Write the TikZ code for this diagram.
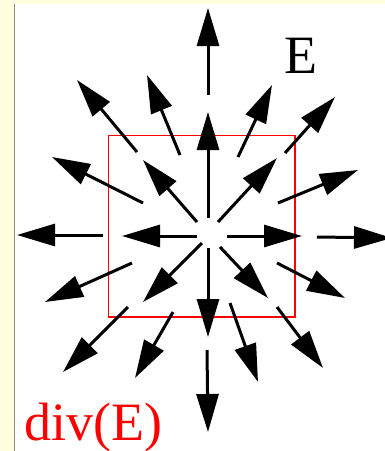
\documentclass[tikz,border=0pt]{standalone}
\usepackage{fontspec}
\setmainfont{Liberation Serif}
\usetikzlibrary{arrows.meta}
\definecolor{PageCream}{RGB}{255,255,224}
\definecolor{EdgeGray}{RGB}{140,140,125}
\definecolor{BoxRed}{RGB}{255,0,0}

\begin{document}
\begin{tikzpicture}[
  x=1pt, y=-1pt,
  field/.style={-{Triangle[length=38pt, width=22pt]}, line width=3pt},
  surface/.style={draw=BoxRed, line width=1.8pt},
  lbl/.style={inner sep=0pt, anchor=base west, font=\fontsize{54}{60}\selectfont}
]
  \useasboundingbox (0,0) rectangle (385,451);
  \clip (0,0) rectangle (385,451);
  \fill[PageCream] (0,0) rectangle (385,451);
  \fill[white] (14.5,4) rectangle (385,451);
  \draw[EdgeGray, line width=1.2pt] (14.5,4) -- (14.5,451);

  % closed surface
  \draw[surface] (108.5,135.5) rectangle (295,317);

  % field lines, inner ring
  \foreach \xa/\ya/\xb/\yb in {208/218/208/112, 227/236/302/236, 197/236/122/236, 208/248/208/337,
      218/222/277/158, 197/222/143/160, 220/247/268/298, 202/243/143/302}
    \draw[field] (\xa,\ya) -- (\xb,\yb);

  % field lines, outer ring
  \foreach \xa/\ya/\xb/\yb in {208/95/208/8, 317/237/392/238, 103/235/17/235, 207/350/208/432,
      285/153/335/97, 137/152/77/80, 277/307/323/368, 128/307/63/372,
      238/157/272/85, 180/155/147/75, 278/203/358/170, 143/203/52/157,
      277/263/345/298, 132/263/45/302, 230/303/258/382, 173/312/135/378}
    \draw[field] (\xa,\ya) -- (\xb,\yb);

  \node[lbl] (efield) at (284,73) {E};
  \node[lbl, text=BoxRed] (divlabel) at (24,440) {div(E)};
\end{tikzpicture}
\end{document}
